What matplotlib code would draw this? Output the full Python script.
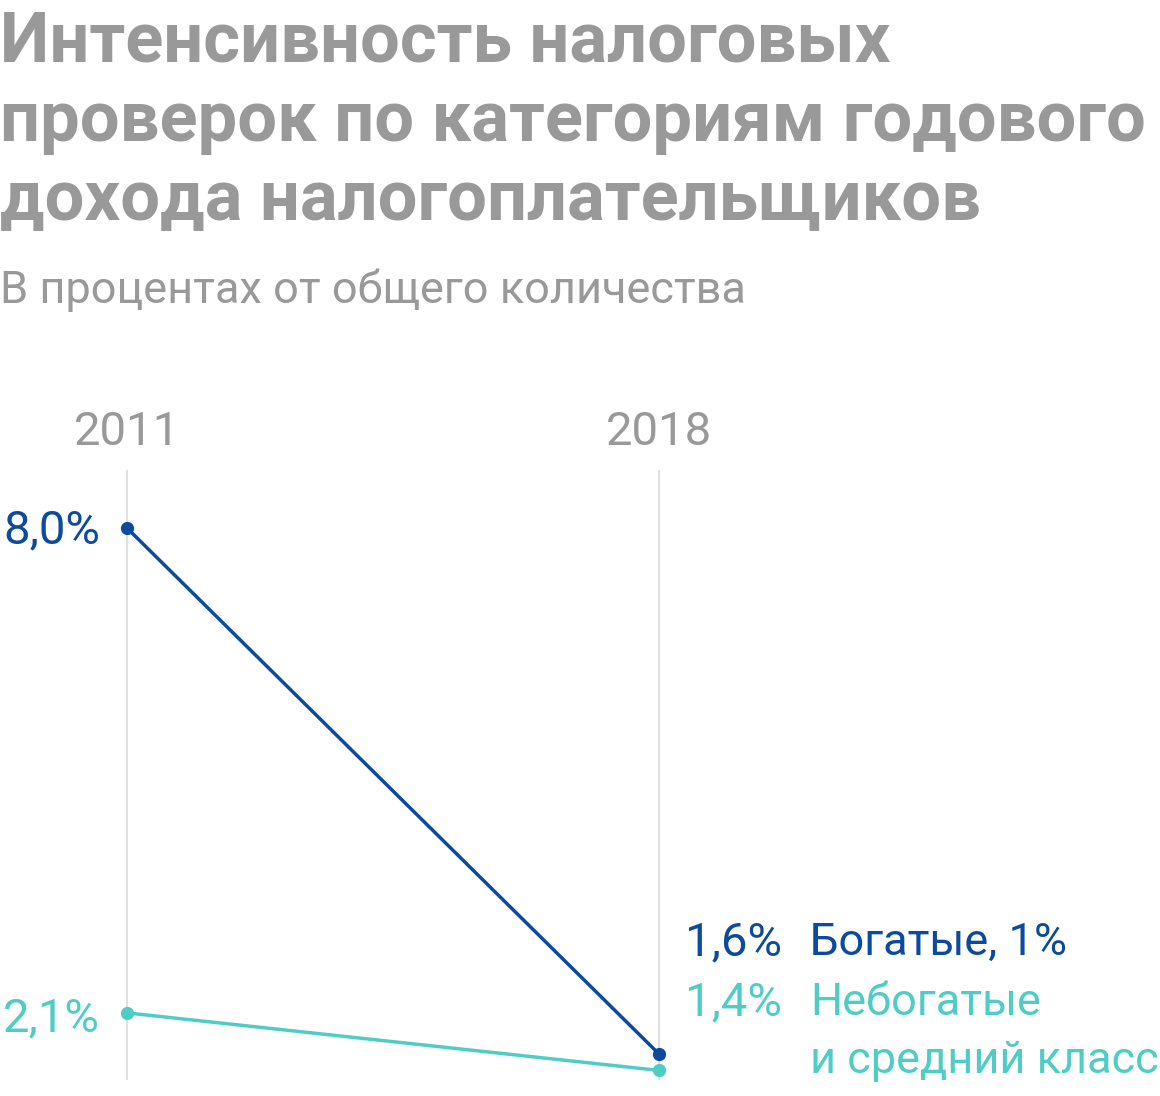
import matplotlib
matplotlib.use("Agg")
import matplotlib.pyplot as plt

# data
years = [2011, 2018]
rich = [8.0, 1.6]
others = [2.1, 1.4]
rich_name = "Богатые, 1%"
others_name = "Небогатые\nи средний класс"
title = "Интенсивность налоговых\nпроверок по категориям годового\nдохода налогоплательщиков"
subtitle = "В процентах от общего количества"

dark = "#0b4a9c"
teal = "#4fcdc4"
grey = "#999999"

W, H = 1160, 1096
fig = plt.figure(figsize=(W / 100, H / 100), dpi=100)
ax = fig.add_axes([0, 0, 1, 1])

# pixel mapping: 2011 -> x=127, 2018 -> x=659; 8.0 -> y=528, 1.6 -> y=1054 (from top)
xpx = (659 - 127) / (years[1] - years[0])
ypx = (1054 - 528) / (rich[0] - rich[1])
ax.set_xlim(years[0] - 127 / xpx, years[0] + (W - 127) / xpx)
ax.set_ylim(rich[0] - (H - 528) / ypx, rich[0] + 528 / ypx)
ax.axis("off")

def ydata(py):
    return rich[0] - (py - 528) / ypx

ax.vlines(years, ydata(1080), ydata(470), color="#e0e0e0", lw=1.5, zorder=1)

ax.plot(years, rich, color=dark, lw=2.5, marker="o", ms=8.5, zorder=3)
ax.plot(years, others, color=teal, lw=2.5, marker="o", ms=8.5, zorder=3)

fmt = lambda v: ("%.1f" % v).replace(".", ",") + "%"
fnt = dict(family="Roboto", fontsize=34)
fnt2 = dict(family="Roboto", fontsize=32.5)

for yr in years:
    ax.text(yr, ydata(445), str(yr), color=grey, ha="center", va="baseline", **fnt)

# left values
ax.text(years[0] - 27 / xpx, ydata(543), fmt(rich[0]), color=dark, ha="right", va="baseline", **fnt)
ax.text(years[0] - 27 / xpx, ydata(1031), fmt(others[0]), color=teal, ha="right", va="baseline", **fnt)

# right labels
ax.text(years[1] + 26 / xpx, ydata(955), fmt(rich[1]), color=dark, ha="left", va="baseline", **fnt)
ax.text(years[1] + 151 / xpx, ydata(955), rich_name, color=dark, ha="left", va="baseline", **fnt2)
ax.text(years[1] + 26 / xpx, ydata(1015), fmt(others[1]), color=teal, ha="left", va="baseline", **fnt)
for i, line in enumerate(others_name.split("\n")):
    ax.text(years[1] + 151 / xpx, ydata(1015 + 58 * i), line, color=teal, ha="left",
            va="baseline", **fnt2)

for i, line in enumerate(title.split("\n")):
    fig.text(0, 1 - (62 + 79 * i) / H, line, color=grey, ha="left", va="baseline",
             family="Roboto", fontweight="bold", fontsize=50.8)
fig.text(0, 1 - 303 / H, subtitle, color=grey, ha="left", va="baseline", family="Roboto", fontsize=32.5)

fig.savefig("out.png", dpi=100)
